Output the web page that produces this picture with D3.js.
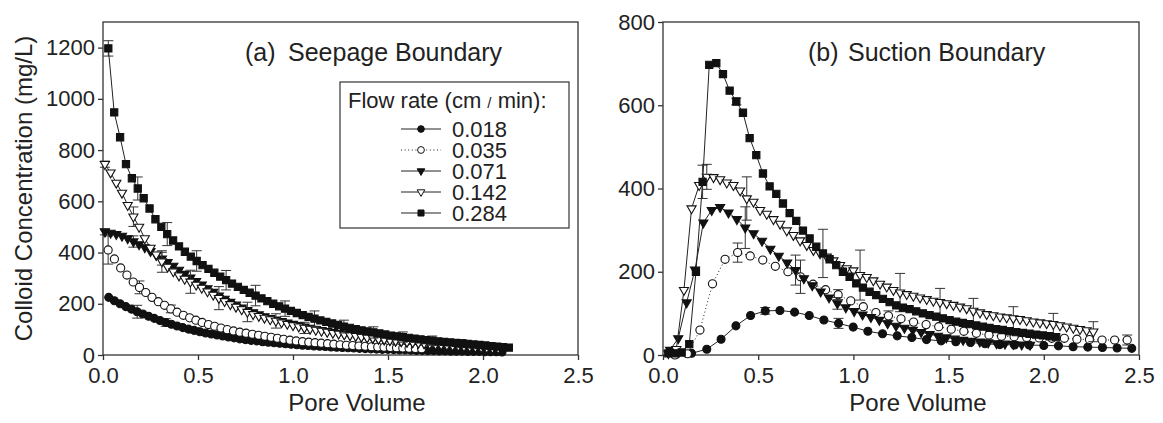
<!DOCTYPE html>
<html>
<head>
<meta charset="utf-8">
<script src="https://cdn.jsdelivr.net/npm/d3@7"></script>
<style>
	body { margin: 0; background: #fff; }
	svg text { font-family: 'Liberation Sans', Arial, Helvetica, sans-serif; fill: #222; }
</style>
</head>
<body>
<svg id="chart" width="1163" height="423"></svg>
<script>
// ---- data (pore volume, concentration mg/L) ----
const flowRates = ['0.018', '0.035', '0.071', '0.142', '0.284'];
const xTickValues = [0, 0.5, 1, 1.5, 2, 2.5];
const seepYTicks = [0, 200, 400, 600, 800, 1000, 1200];
const suctYTicks = [0, 200, 400, 600, 800];

// (a) seepage boundary
const seep018 = [[0.03,225],[0.06,212],[0.09,200],[0.12,189],[0.15,179],[0.18,169],[0.21,160],[0.24,151],[0.27,143],[0.30,135],[0.33,127],[0.36,120],[0.39,113],[0.42,107],[0.45,101],[0.48,96],[0.51,91],[0.54,86],[0.57,82],[0.60,78],[0.63,74],[0.66,70],[0.69,67],[0.72,63],[0.75,60],[0.78,57],[0.81,55],[0.84,52],[0.87,50],[0.90,48],[0.93,46],[0.96,44],[0.99,42],[1.02,40],[1.05,38],[1.08,37],[1.11,35],[1.14,34],[1.17,33],[1.20,31],[1.23,30],[1.26,29],[1.29,28],[1.32,27],[1.35,26],[1.38,25],[1.41,24],[1.44,23],[1.47,22],[1.50,22],[1.53,21],[1.56,20],[1.59,20],[1.62,19],[1.65,18],[1.68,18],[1.71,17],[1.74,17],[1.77,16],[1.80,16],[1.83,15],[1.86,15],[1.89,15],[1.92,14],[1.95,14],[1.98,14],[2.01,13],[2.04,13],[2.07,13],[2.10,12]];
const seep035 = [[0.027,410],[0.060,375],[0.093,340],[0.126,312],[0.159,285],[0.192,264],[0.225,244],[0.258,225],[0.291,208],[0.324,194],[0.357,180],[0.390,167],[0.423,155],[0.456,145],[0.489,136],[0.522,127],[0.555,119],[0.588,112],[0.621,105],[0.654,99],[0.687,94],[0.720,89],[0.753,85],[0.786,81],[0.819,77],[0.852,73],[0.885,69],[0.918,65],[0.951,61],[0.984,58],[1.017,55],[1.050,52],[1.083,50],[1.116,48],[1.149,46],[1.182,44],[1.215,42],[1.248,40],[1.281,38],[1.314,37],[1.347,35],[1.380,34],[1.413,32],[1.446,31],[1.479,30],[1.512,29],[1.545,28],[1.578,27],[1.611,26],[1.644,25],[1.677,24]];
const seep071 = [[0.01,481],[0.04,477],[0.07,472],[0.10,465],[0.13,455],[0.16,443],[0.19,432],[0.22,420],[0.25,405],[0.28,390],[0.31,376],[0.34,362],[0.37,348],[0.40,332],[0.43,316],[0.46,302],[0.49,288],[0.52,275],[0.55,260],[0.58,246],[0.61,232],[0.64,219],[0.67,207],[0.70,196],[0.73,185],[0.76,175],[0.79,166],[0.82,158],[0.85,151],[0.88,144],[0.91,138],[0.94,132],[0.97,126],[1.00,121],[1.03,116],[1.06,111],[1.09,106],[1.12,101],[1.15,97],[1.18,93],[1.21,89],[1.24,85],[1.27,81],[1.30,78],[1.33,75],[1.36,72],[1.39,69],[1.42,66],[1.45,63],[1.48,60],[1.51,58],[1.54,55],[1.57,53],[1.60,51],[1.63,49],[1.66,47],[1.69,45],[1.72,43],[1.75,41],[1.78,39],[1.81,37],[1.84,36],[1.87,34],[1.90,33],[1.93,31],[1.96,30],[1.99,28],[2.02,27]];
const seep142 = [[0.01,745],[0.04,712],[0.07,672],[0.10,633],[0.13,585],[0.16,540],[0.19,500],[0.22,455],[0.25,418],[0.28,392],[0.31,365],[0.34,344],[0.37,326],[0.40,310],[0.43,297],[0.46,286],[0.49,274],[0.52,262],[0.55,248],[0.58,235],[0.61,222],[0.64,210],[0.67,198],[0.70,188],[0.73,178],[0.76,168],[0.79,159],[0.82,152],[0.85,145],[0.88,139],[0.91,133],[0.94,127],[0.97,121],[1.00,116],[1.03,111],[1.06,106],[1.09,102],[1.12,98],[1.15,94],[1.18,90],[1.21,86],[1.24,83],[1.27,80],[1.30,77],[1.33,74],[1.36,71],[1.39,68],[1.42,66],[1.45,63],[1.48,61],[1.51,58],[1.54,56],[1.57,54],[1.60,52],[1.63,50],[1.66,48],[1.69,46],[1.72,44],[1.75,42],[1.78,41],[1.81,39],[1.84,37],[1.87,36],[1.90,34],[1.93,33],[1.96,31],[1.99,30],[2.02,28],[2.05,27],[2.08,26]];
const seep284 = [[0.028,1197],[0.059,947],[0.090,850],[0.121,745],[0.152,690],[0.183,650],[0.214,612],[0.245,572],[0.276,530],[0.307,500],[0.338,472],[0.369,447],[0.400,424],[0.431,403],[0.462,384],[0.493,367],[0.524,351],[0.555,336],[0.586,321],[0.617,306],[0.648,292],[0.679,279],[0.710,266],[0.741,254],[0.772,243],[0.803,232],[0.834,221],[0.865,210],[0.896,200],[0.927,190],[0.958,181],[0.989,172],[1.020,164],[1.051,156],[1.082,149],[1.113,142],[1.144,135],[1.175,129],[1.206,123],[1.237,117],[1.268,111],[1.299,106],[1.330,101],[1.361,96],[1.392,92],[1.423,88],[1.454,84],[1.485,80],[1.516,76],[1.547,73],[1.578,70],[1.609,67],[1.640,64],[1.671,61],[1.702,58],[1.733,56],[1.764,53],[1.795,51],[1.826,49],[1.857,47],[1.888,45],[1.919,43],[1.950,41],[1.981,39],[2.012,37],[2.043,35],[2.074,33],[2.105,31],[2.136,29]];

// error bars: [pore volume, mean, +/- error]
const seepErr018 = [[0.18,169,25],[0.33,127,15],[0.48,96,10]];
const seepErr035 = [[0.027,410,55],[0.192,264,25],[0.357,180,15]];
const seepErr071 = [[0.01,481,12],[0.16,443,22],[0.31,376,25]];
const seepErr142 = [[0.01,745,12],[0.16,540,38],[0.31,365,42],[0.46,286,45],[0.61,222,45],[0.76,168,38],[0.91,133,28],[1.06,106,22]];
const seepErr284 = [[0.028,1197,30],[0.183,650,45],[0.338,472,45],[0.493,367,40],[0.648,292,38],[0.803,232,40],[0.958,181,30],[1.113,142,30],[1.268,111,25],[1.423,88,22],[1.578,70,20],[1.733,56,18],[1.888,45,15],[2.043,35,12]];

// (b) suction boundary
const suct018 = [[0.070,2],[0.150,4],[0.230,14],[0.305,38],[0.383,70],[0.460,95],[0.537,106],[0.614,107],[0.691,103],[0.768,95],[0.845,84],[0.922,76],[0.999,67],[1.076,57],[1.153,51],[1.230,46],[1.307,42],[1.384,37],[1.461,34],[1.538,32],[1.615,30],[1.692,27],[1.769,25],[1.846,24],[1.923,24],[2.000,23],[2.077,22],[2.154,20],[2.231,19],[2.308,18],[2.385,17],[2.462,16]];
const suct035 = [[0.062,0],[0.128,3],[0.194,60],[0.260,171],[0.326,230],[0.392,246],[0.458,238],[0.524,228],[0.590,213],[0.656,200],[0.722,188],[0.788,170],[0.854,157],[0.920,145],[0.986,130],[1.052,116],[1.118,102],[1.184,94],[1.250,87],[1.316,79],[1.382,73],[1.448,68],[1.514,62],[1.580,57],[1.646,52],[1.712,48],[1.778,45],[1.844,44],[1.910,42],[1.976,41],[2.042,40],[2.108,40],[2.174,38],[2.240,37],[2.306,36],[2.372,36],[2.438,36]];
const suct071 = [[0.037,12],[0.080,40],[0.124,126],[0.168,205],[0.212,318],[0.256,348],[0.300,355],[0.344,342],[0.388,326],[0.432,306],[0.476,292],[0.520,274],[0.564,255],[0.608,238],[0.652,222],[0.696,204],[0.740,184],[0.784,167],[0.828,152],[0.872,138],[0.916,124],[0.960,114],[1.004,105],[1.048,97],[1.092,91],[1.136,84],[1.180,76],[1.224,70],[1.268,65],[1.312,60],[1.356,55],[1.400,50],[1.444,46],[1.488,42],[1.532,39],[1.576,36],[1.620,34],[1.664,32],[1.708,30],[1.752,28],[1.796,27],[1.840,26],[1.884,25],[1.928,24]];
const suct142 = [[0.028,4],[0.070,14],[0.110,156],[0.150,352],[0.190,408],[0.230,428],[0.265,427],[0.300,422],[0.335,414],[0.370,408],[0.405,395],[0.440,376],[0.475,368],[0.510,348],[0.545,339],[0.580,326],[0.615,315],[0.650,299],[0.685,288],[0.720,275],[0.755,264],[0.790,252],[0.825,244],[0.860,236],[0.895,227],[0.930,216],[0.965,208],[1.000,203],[1.035,192],[1.070,187],[1.105,179],[1.140,171],[1.175,164],[1.210,156],[1.245,150],[1.280,146],[1.315,142],[1.350,138],[1.385,134],[1.420,130],[1.455,127],[1.490,124],[1.525,120],[1.560,116],[1.595,112],[1.630,106],[1.665,102],[1.700,98],[1.735,95],[1.770,92],[1.805,90],[1.840,88],[1.875,86],[1.910,83],[1.945,80],[1.980,78],[2.015,76],[2.050,74],[2.085,71],[2.120,68],[2.155,65],[2.190,62],[2.225,59],[2.260,56]];
const suct284 = [[0.028,4],[0.063,4],[0.098,6],[0.138,26],[0.173,200],[0.208,416],[0.243,697],[0.280,701],[0.315,675],[0.350,635],[0.385,609],[0.420,582],[0.455,521],[0.490,480],[0.525,436],[0.560,405],[0.595,387],[0.630,364],[0.665,341],[0.700,322],[0.735,299],[0.770,280],[0.805,260],[0.840,244],[0.875,230],[0.910,216],[0.945,200],[0.980,188],[1.015,172],[1.050,162],[1.085,152],[1.120,144],[1.155,135],[1.190,127],[1.225,119],[1.260,114],[1.295,110],[1.330,105],[1.365,100],[1.400,96],[1.435,92],[1.470,88],[1.505,84],[1.540,80],[1.575,77],[1.610,74],[1.645,71],[1.680,68],[1.715,65],[1.750,62],[1.785,60],[1.820,57],[1.855,55],[1.890,53],[1.925,51],[1.960,49],[1.995,47],[2.030,45],[2.065,43]];

const suctErr018 = [[0.537,106,8],[0.922,76,12]];
const suctErr035 = [[0.392,246,23],[0.722,188,40],[0.920,145,12],[1.184,94,12],[2.438,36,12]];
const suctErr071 = [[0.432,306,50],[0.696,204,36],[0.916,124,14]];
const suctErr142 = [[0.230,428,30],[0.440,376,52],[1.035,192,60],[1.245,150,46],[1.455,127,33],[1.630,106,30],[1.840,88,28],[2.050,74,26],[2.260,56,24]];
const suctErr284 = [[0.208,416,40],[0.385,609,8],[0.840,244,58]];

// marker / line look for each flow rate, same order as flowRates
const seriesStyle = [
	{ symbol: d3.symbolCircle, fill: '#111', dash: null, size: 50, flip: false },
	{ symbol: d3.symbolCircle, fill: '#fff', dash: '1,2.6', size: 52, flip: false },
	{ symbol: d3.symbolTriangle, fill: '#111', dash: null, size: 36, flip: true },
	{ symbol: d3.symbolTriangle, fill: '#fff', dash: null, size: 36, flip: true },
	{ symbol: d3.symbolSquare, fill: '#111', dash: null, size: 52, flip: false }
];

class BreakthroughPanel {

	constructor(_config, series, errors) {
		this.config = _config;
		this.series = series;
		this.errors = errors;
		this.initVis();
	}

	initVis() {
		let vis = this;

		vis.svg = d3.select(vis.config.parentElement);
		vis.chartArea = vis.svg.append('g');

		vis.xScale = d3.scaleLinear()
			.domain([0, 2.5])
			.range([vis.config.left, vis.config.right]);

		vis.yScale = d3.scaleLinear()
			.domain([0, vis.config.yMax])
			.range([vis.config.bottom, vis.config.top]);

		vis.renderVis();
	}

	renderVis() {
		let vis = this;
		const cfg = vis.config;

		// plot frame
		vis.chartArea.append('rect')
			.attr('x', cfg.left)
			.attr('y', cfg.top)
			.attr('width', cfg.right - cfg.left)
			.attr('height', cfg.bottom - cfg.top)
			.attr('fill', 'none')
			.attr('stroke', '#333')
			.attr('stroke-width', 1.3);

		const xAxis = d3.axisBottom(vis.xScale)
			.tickValues(xTickValues)
			.tickFormat(d3.format('.1f'))
			.tickSize(5)
			.tickPadding(7);

		const yAxis = d3.axisLeft(vis.yScale)
			.tickValues(cfg.yTicks)
			.tickFormat(d3.format('d'))
			.tickSize(5)
			.tickPadding(3);

		const styleAxis = g => {
			g.select('.domain').remove();
			g.attr('font-size', null).attr('font-family', null);
			g.selectAll('line').attr('stroke', '#333').attr('stroke-width', 1.3);
			g.selectAll('text').style('font-size', '22px');
		};

		vis.chartArea.append('g')
			.attr('transform', `translate(0,${cfg.bottom})`)
			.call(xAxis)
			.call(styleAxis);

		vis.chartArea.append('g')
			.attr('transform', `translate(${cfg.left},0)`)
			.call(yAxis)
			.call(styleAxis);

		// axis titles
		vis.chartArea.append('text')
			.attr('x', cfg.xLabelX)
			.attr('y', 411)
			.attr('text-anchor', 'middle')
			.style('font-size', '24px')
			.text('Pore Volume');

		if (cfg.yLabel) {
			vis.chartArea.append('text')
				.attr('transform', `translate(32,${(cfg.top + cfg.bottom) / 2}) rotate(-90)`)
				.attr('text-anchor', 'middle')
				.style('font-size', '24px')
				.text(cfg.yLabel);
		}

		// panel title
		vis.chartArea.append('text')
			.attr('x', cfg.tagX)
			.attr('y', 61)
			.style('font-size', '25px')
			.text(cfg.tag);

		vis.chartArea.append('text')
			.attr('x', cfg.titleX)
			.attr('y', 61)
			.style('font-size', '25px')
			.text(cfg.title);

		const line = d3.line()
			.x(d => vis.xScale(d[0]))
			.y(d => vis.yScale(d[1]));

		vis.series.forEach((data, i) => {
			const st = seriesStyle[i];
			const g = vis.chartArea.append('g').attr('class', 'series-' + i);

			g.append('path')
				.datum(data)
				.attr('d', line)
				.attr('fill', 'none')
				.attr('stroke', '#222')
				.attr('stroke-width', 1)
				.attr('stroke-dasharray', st.dash);

			// error bars with caps
			g.selectAll('.err')
				.data(vis.errors[i])
				.join('path')
				.attr('class', 'err')
				.attr('d', d => {
					const x = vis.xScale(d[0]);
					const y0 = vis.yScale(d[1] - d[2]);
					const y1 = vis.yScale(d[1] + d[2]);
					return `M${x},${y0}V${y1}M${x - 5},${y1}H${x + 5}M${x - 5},${y0}H${x + 5}`;
				})
				.attr('fill', 'none')
				.attr('stroke', '#333')
				.attr('stroke-width', 1);

			const sym = d3.symbol().type(st.symbol).size(st.size);
			g.selectAll('.marker')
				.data(data)
				.join('path')
				.attr('class', 'marker')
				.attr('d', sym)
				.attr('transform', d => `translate(${vis.xScale(d[0])},${vis.yScale(d[1])})` + (st.flip ? ' rotate(180)' : ''))
				.attr('fill', st.fill)
				.attr('stroke', '#111')
				.attr('stroke-width', 1.1);
		});
	}
}

function drawLegend(svg) {
	const box = { x: 340, y: 82, w: 229, h: 146 };
	const g = svg.append('g');

	g.append('rect')
		.attr('x', box.x)
		.attr('y', box.y)
		.attr('width', box.w)
		.attr('height', box.h)
		.attr('fill', '#fff')
		.attr('stroke', '#333')
		.attr('stroke-width', 1.2);

	const title = g.append('text')
		.attr('x', 348)
		.attr('y', 108)
		.style('font-size', '22px');
	title.append('tspan').text('Flow rate (cm ');
	title.append('tspan').style('font-size', '15px').text('/');
	title.append('tspan').text(' min):');

	const rowY = d3.scaleLinear().domain([0, 4]).range([137, 221]);

	const rows = g.selectAll('.legend-row')
		.data(flowRates)
		.join('g')
		.attr('class', 'legend-row')
		.attr('transform', (d, i) => `translate(0,${rowY(i)})`);

	rows.append('line')
		.attr('x1', 401)
		.attr('x2', 441)
		.attr('y1', -8)
		.attr('y2', -8)
		.attr('stroke', '#222')
		.attr('stroke-width', 1)
		.attr('stroke-dasharray', (d, i) => seriesStyle[i].dash);

	rows.append('path')
		.attr('d', (d, i) => d3.symbol().type(seriesStyle[i].symbol).size(seriesStyle[i].size * 0.7)())
		.attr('transform', (d, i) => 'translate(421,-8)' + (seriesStyle[i].flip ? ' rotate(180)' : ''))
		.attr('fill', (d, i) => seriesStyle[i].fill)
		.attr('stroke', '#111')
		.attr('stroke-width', 1);

	rows.append('text')
		.attr('x', 452)
		.attr('y', 0)
		.style('font-size', '22px')
		.text(d => d);
}

const svg = d3.select('#chart');

new BreakthroughPanel({
	parentElement: '#chart',
	left: 103, right: 578, top: 22, bottom: 355,
	yMax: 1300, yTicks: seepYTicks,
	xLabelX: 357,
	yLabel: 'Colloid Concentration (mg/L)',
	tag: '(a)', tagX: 245,
	title: 'Seepage Boundary', titleX: 288
}, [seep018, seep035, seep071, seep142, seep284],
	[seepErr018, seepErr035, seepErr071, seepErr142, seepErr284]);

drawLegend(svg);

new BreakthroughPanel({
	parentElement: '#chart',
	left: 663, right: 1139, top: 22, bottom: 355,
	yMax: 800, yTicks: suctYTicks,
	xLabelX: 918,
	yLabel: null,
	tag: '(b)', tagX: 808,
	title: 'Suction Boundary', titleX: 848
}, [suct018, suct035, suct071, suct142, suct284],
	[suctErr018, suctErr035, suctErr071, suctErr142, suctErr284]);
</script>
</body>
</html>
